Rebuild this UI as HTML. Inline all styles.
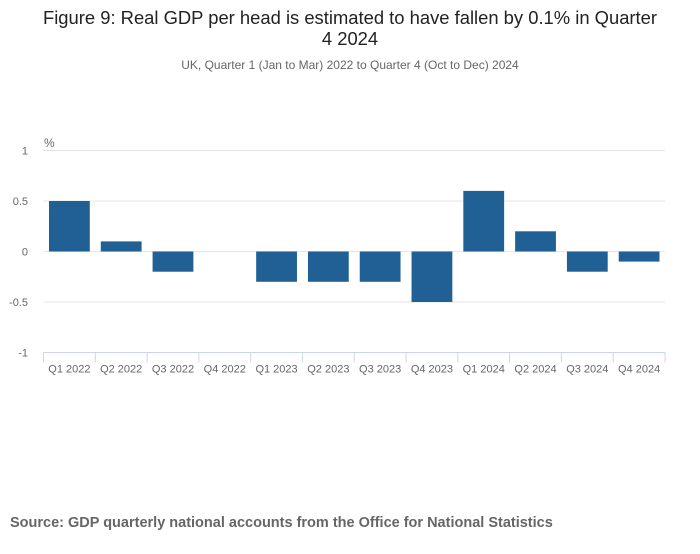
<!DOCTYPE html>
<html><head><meta charset="utf-8"><style>
body{margin:0;background:#fff;font-family:"Liberation Sans",sans-serif;}
</style></head><body>
<svg width="700" height="549" xmlns="http://www.w3.org/2000/svg">
<text x="350" y="24" text-anchor="middle" font-size="18.4" fill="#222">Figure 9: Real GDP per head is estimated to have fallen by 0.1% in Quarter</text>
<text x="350" y="45" text-anchor="middle" font-size="18.4" fill="#222">4 2024</text>
<text x="350" y="69" text-anchor="middle" font-size="12" fill="#666">UK, Quarter 1 (Jan to Mar) 2022 to Quarter 4 (Oct to Dec) 2024</text>
<text x="44" y="147" font-size="12" fill="#666">%</text>
<g id="grid"></g><g id="bars"></g><g id="xaxis"></g>
<text x="10" y="527" font-size="14.5" font-weight="bold" fill="#666">Source: GDP quarterly national accounts from the Office for National Statistics</text>
</svg>
<script>
const categories=["Q1 2022","Q2 2022","Q3 2022","Q4 2022","Q1 2023","Q2 2023","Q3 2023","Q4 2023","Q1 2024","Q2 2024","Q3 2024","Q4 2024"];
const values=[0.5,0.1,-0.2,0,-0.3,-0.3,-0.3,-0.5,0.6,0.2,-0.2,-0.1];
const yTicks=[1,0.5,0,-0.5,-1];
const yTickLabels=["1","0.5","0","-0.5","-1"];
const NS="http://www.w3.org/2000/svg";
const x0=43.5,x1=665,yTop=150.5,yBot=352.5;
const cw=(x1-x0)/categories.length;
const y=v=>yTop+(1-v)*(yBot-yTop)/2;
const xs=i=>x0+i*cw;
function mk(t,a,p){const e=document.createElementNS(NS,t);for(const k in a)e.setAttribute(k,a[k]);p.appendChild(e);return e;}
const grid=document.getElementById('grid'),bars=document.getElementById('bars'),xa=document.getElementById('xaxis');
yTicks.forEach((v,i)=>{
 if(v!==-1){const l=mk('line',{x1:x0,x2:x1,y1:y(v),y2:y(v),stroke:'#e6e6e6','stroke-width':1},grid);
 
 }
 const t=mk('text',{x:28,y:y(v)+4,'text-anchor':'end','font-size':11,fill:'#666'},grid);
 t.textContent=yTickLabels[i];
 
 
});
values.forEach((v,i)=>{
 const r=mk('rect',{x:xs(i)+5.5,width:cw-11,y:Math.min(y(v),y(0)),height:Math.abs(y(v)-y(0)),fill:'#206095'},bars);
 
 
 const t=mk('text',{x:xs(i)+cw/2,y:y(-1)+20,'text-anchor':'middle','font-size':11,fill:'#666'},xa);
 t.textContent=categories[i];
 
 
});
const ax=mk('line',{x1:x0,x2:x1,y1:yBot,y2:yBot,stroke:'#ccd6eb','stroke-width':1},xa);


for(let i=0;i<=categories.length;i++){
 const tk=mk('line',{x1:xs(i),x2:xs(i),y1:yBot,y2:yBot+10,stroke:'#ccd6eb','stroke-width':1},xa);
 
 
}
</script>
</body></html>
